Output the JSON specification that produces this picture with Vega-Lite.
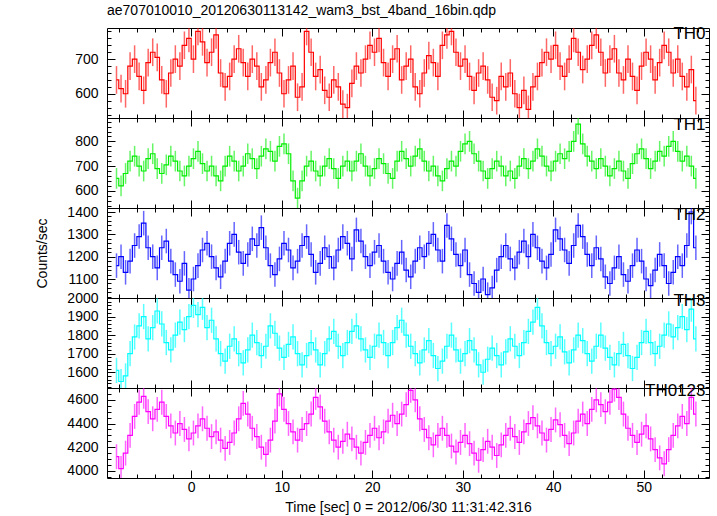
{
"$schema": "https://vega.github.io/schema/vega-lite/v6.json",
"background": "white",
"padding": {"left": 35, "top": 3, "right": 8, "bottom": 2},
"bounds": "flush",
"spacing": 0,
"title": {"text": "ae707010010_20120630113142_wam3_bst_4band_16bin.qdp", "anchor": "start", "frame": "group", "fontSize": 14, "fontWeight": "normal", "font": "Liberation Sans", "color": "black", "offset": 6},
"config": {
  "font": "Liberation Sans",
  "view": {"stroke": "black", "strokeWidth": 1},
  "axis": {"grid": false, "domain": false, "tickColor": "black", "tickWidth": 1, "labelFont": "Liberation Sans", "labelFontSize": 14, "labelColor": "black", "titleFont": "Liberation Sans", "titleFontSize": 14, "titleFontWeight": "normal", "titleColor": "black", "labelOverlap": false}
},
"datasets": {
"err": [{"k":"a","err":40},{"k":"b","err":42},{"k":"c","err":55},{"k":"d","err":68},{"k":"e","err":105}],
"d": [
{"t":-8.25,"a":640,"b":650,"c":1160,"d":1610,"e":4120},
{"t":-7.75,"a":615,"b":620,"c":1200,"d":1550,"e":4020},
{"t":-7.25,"a":600,"b":670,"c":1130,"d":1580,"e":4150},
{"t":-6.75,"a":680,"b":720,"c":1180,"d":1700,"e":4300},
{"t":-6.25,"a":700,"b":740,"c":1250,"d":1790,"e":4460},
{"t":-5.75,"a":650,"b":700,"c":1290,"d":1850,"e":4580},
{"t":-5.25,"a":610,"b":680,"c":1350,"d":1900,"e":4630},
{"t":-4.75,"a":690,"b":730,"c":1240,"d":1780,"e":4500},
{"t":-4.25,"a":720,"b":750,"c":1200,"d":1840,"e":4440},
{"t":-3.75,"a":705,"b":690,"c":1150,"d":1930,"e":4520},
{"t":-3.25,"a":640,"b":670,"c":1240,"d":1860,"e":4580},
{"t":-2.75,"a":600,"b":705,"c":1270,"d":1760,"e":4460},
{"t":-2.25,"a":660,"b":740,"c":1180,"d":1720,"e":4380},
{"t":-1.75,"a":700,"b":720,"c":1120,"d":1800,"e":4320},
{"t":-1.25,"a":680,"b":680,"c":1090,"d":1870,"e":4400},
{"t":-0.75,"a":740,"b":660,"c":1170,"d":1830,"e":4350},
{"t":-0.25,"a":760,"b":700,"c":1050,"d":1900,"e":4270},
{"t":0.25,"a":700,"b":730,"c":1100,"d":1960,"e":4320},
{"t":0.75,"a":780,"b":760,"c":1160,"d":1910,"e":4380},
{"t":1.25,"a":750,"b":710,"c":1230,"d":1950,"e":4440},
{"t":1.75,"a":690,"b":680,"c":1260,"d":1840,"e":4360},
{"t":2.25,"a":720,"b":700,"c":1200,"d":1880,"e":4290},
{"t":2.75,"a":770,"b":660,"c":1150,"d":1780,"e":4330},
{"t":3.25,"a":660,"b":640,"c":1110,"d":1700,"e":4260},
{"t":3.75,"a":620,"b":700,"c":1180,"d":1660,"e":4190},
{"t":4.25,"a":650,"b":740,"c":1260,"d":1740,"e":4240},
{"t":4.75,"a":700,"b":720,"c":1300,"d":1780,"e":4320},
{"t":5.25,"a":730,"b":680,"c":1220,"d":1700,"e":4440},
{"t":5.75,"a":690,"b":700,"c":1170,"d":1650,"e":4570},
{"t":6.25,"a":650,"b":750,"c":1210,"d":1720,"e":4480},
{"t":6.75,"a":700,"b":730,"c":1280,"d":1800,"e":4360},
{"t":7.25,"a":680,"b":690,"c":1250,"d":1760,"e":4290},
{"t":7.75,"a":620,"b":740,"c":1330,"d":1690,"e":4200},
{"t":8.25,"a":640,"b":770,"c":1240,"d":1740,"e":4140},
{"t":8.75,"a":690,"b":760,"c":1160,"d":1850,"e":4260},
{"t":9.25,"a":720,"b":720,"c":1120,"d":1810,"e":4420},
{"t":9.75,"a":660,"b":780,"c":1190,"d":1730,"e":4650},
{"t":10.25,"a":600,"b":790,"c":1260,"d":1680,"e":4520},
{"t":10.75,"a":640,"b":750,"c":1230,"d":1750,"e":4400},
{"t":11.25,"a":680,"b":640,"c":1150,"d":1790,"e":4330},
{"t":11.75,"a":590,"b":570,"c":1180,"d":1700,"e":4260},
{"t":12.25,"a":620,"b":640,"c":1250,"d":1640,"e":4350},
{"t":12.75,"a":780,"b":700,"c":1290,"d":1690,"e":4400},
{"t":13.25,"a":720,"b":720,"c":1210,"d":1760,"e":4480},
{"t":13.75,"a":650,"b":680,"c":1130,"d":1720,"e":4620},
{"t":14.25,"a":670,"b":660,"c":1170,"d":1640,"e":4540},
{"t":14.75,"a":610,"b":700,"c":1240,"d":1700,"e":4420},
{"t":15.25,"a":590,"b":730,"c":1200,"d":1780,"e":4330},
{"t":15.75,"a":640,"b":690,"c":1150,"d":1820,"e":4260},
{"t":16.25,"a":620,"b":650,"c":1230,"d":1740,"e":4200},
{"t":16.75,"a":570,"b":700,"c":1290,"d":1690,"e":4250},
{"t":17.25,"a":560,"b":720,"c":1260,"d":1760,"e":4310},
{"t":17.75,"a":630,"b":680,"c":1190,"d":1820,"e":4270},
{"t":18.25,"a":680,"b":720,"c":1320,"d":1850,"e":4200},
{"t":18.75,"a":660,"b":750,"c":1270,"d":1780,"e":4150},
{"t":19.25,"a":700,"b":700,"c":1200,"d":1720,"e":4240},
{"t":19.75,"a":740,"b":660,"c":1160,"d":1680,"e":4300},
{"t":20.25,"a":720,"b":690,"c":1220,"d":1740,"e":4360},
{"t":20.75,"a":760,"b":730,"c":1250,"d":1800,"e":4280},
{"t":21.25,"a":690,"b":710,"c":1180,"d":1760,"e":4330},
{"t":21.75,"a":650,"b":670,"c":1130,"d":1690,"e":4420},
{"t":22.25,"a":700,"b":650,"c":1100,"d":1760,"e":4470},
{"t":22.75,"a":730,"b":720,"c":1170,"d":1840,"e":4400},
{"t":23.25,"a":640,"b":760,"c":1220,"d":1880,"e":4480},
{"t":23.75,"a":680,"b":730,"c":1140,"d":1800,"e":4560},
{"t":24.25,"a":700,"b":700,"c":1110,"d":1740,"e":4680},
{"t":24.75,"a":620,"b":740,"c":1180,"d":1700,"e":4600},
{"t":25.25,"a":600,"b":770,"c":1240,"d":1650,"e":4440},
{"t":25.75,"a":660,"b":720,"c":1200,"d":1720,"e":4350},
{"t":26.25,"a":710,"b":680,"c":1260,"d":1770,"e":4280},
{"t":26.75,"a":690,"b":700,"c":1300,"d":1690,"e":4220},
{"t":27.25,"a":650,"b":660,"c":1230,"d":1620,"e":4300},
{"t":27.75,"a":740,"b":640,"c":1180,"d":1660,"e":4360},
{"t":28.25,"a":770,"b":690,"c":1340,"d":1740,"e":4300},
{"t":28.75,"a":780,"b":720,"c":1280,"d":1800,"e":4210},
{"t":29.25,"a":720,"b":700,"c":1210,"d":1720,"e":4160},
{"t":29.75,"a":680,"b":760,"c":1160,"d":1660,"e":4240},
{"t":30.25,"a":700,"b":790,"c":1230,"d":1700,"e":4300},
{"t":30.75,"a":650,"b":800,"c":1120,"d":1770,"e":4230},
{"t":31.25,"a":610,"b":750,"c":1080,"d":1720,"e":4150},
{"t":31.75,"a":660,"b":720,"c":1040,"d":1640,"e":4090},
{"t":32.25,"a":680,"b":680,"c":1100,"d":1600,"e":4180},
{"t":32.75,"a":640,"b":650,"c":1030,"d":1670,"e":4250},
{"t":33.25,"a":590,"b":690,"c":1060,"d":1730,"e":4200},
{"t":33.75,"a":580,"b":720,"c":1140,"d":1690,"e":4130},
{"t":34.25,"a":650,"b":700,"c":1200,"d":1640,"e":4220},
{"t":34.75,"a":620,"b":660,"c":1250,"d":1710,"e":4300},
{"t":35.25,"a":660,"b":680,"c":1190,"d":1780,"e":4360},
{"t":35.75,"a":600,"b":650,"c":1150,"d":1740,"e":4290},
{"t":36.25,"a":560,"b":700,"c":1220,"d":1690,"e":4240},
{"t":36.75,"a":610,"b":730,"c":1270,"d":1760,"e":4330},
{"t":37.25,"a":555,"b":690,"c":1200,"d":1820,"e":4400},
{"t":37.75,"a":620,"b":720,"c":1300,"d":1870,"e":4450},
{"t":38.25,"a":650,"b":770,"c":1240,"d":1950,"e":4380},
{"t":38.75,"a":690,"b":740,"c":1180,"d":1850,"e":4320},
{"t":39.25,"a":720,"b":700,"c":1150,"d":1760,"e":4260},
{"t":39.75,"a":700,"b":680,"c":1210,"d":1700,"e":4350},
{"t":40.25,"a":740,"b":720,"c":1320,"d":1740,"e":4430},
{"t":40.75,"a":680,"b":750,"c":1280,"d":1790,"e":4390},
{"t":41.25,"a":650,"b":730,"c":1230,"d":1710,"e":4300},
{"t":41.75,"a":700,"b":760,"c":1170,"d":1650,"e":4230},
{"t":42.25,"a":760,"b":800,"c":1250,"d":1720,"e":4320},
{"t":42.75,"a":720,"b":870,"c":1340,"d":1800,"e":4420},
{"t":43.25,"a":670,"b":790,"c":1290,"d":1770,"e":4480},
{"t":43.75,"a":700,"b":740,"c":1210,"d":1700,"e":4400},
{"t":44.25,"a":740,"b":720,"c":1160,"d":1660,"e":4520},
{"t":44.75,"a":770,"b":690,"c":1240,"d":1740,"e":4600},
{"t":45.25,"a":720,"b":730,"c":1190,"d":1800,"e":4560},
{"t":45.75,"a":660,"b":700,"c":1110,"d":1730,"e":4500},
{"t":46.25,"a":700,"b":660,"c":1080,"d":1680,"e":4580},
{"t":46.75,"a":730,"b":690,"c":1150,"d":1640,"e":4690},
{"t":47.25,"a":660,"b":720,"c":1200,"d":1700,"e":4620},
{"t":47.75,"a":640,"b":680,"c":1120,"d":1750,"e":4480},
{"t":48.25,"a":700,"b":650,"c":1090,"d":1690,"e":4360},
{"t":48.75,"a":650,"b":710,"c":1160,"d":1620,"e":4300},
{"t":49.25,"a":610,"b":750,"c":1230,"d":1680,"e":4240},
{"t":49.75,"a":680,"b":770,"c":1180,"d":1760,"e":4310},
{"t":50.25,"a":720,"b":730,"c":1100,"d":1820,"e":4380},
{"t":50.75,"a":700,"b":690,"c":1070,"d":1760,"e":4270},
{"t":51.25,"a":640,"b":720,"c":1140,"d":1700,"e":4180},
{"t":51.75,"a":690,"b":760,"c":1210,"d":1740,"e":4110},
{"t":52.25,"a":740,"b":740,"c":1160,"d":1800,"e":4060},
{"t":52.75,"a":720,"b":780,"c":1080,"d":1860,"e":4180},
{"t":53.25,"a":660,"b":800,"c":1130,"d":1790,"e":4300},
{"t":53.75,"a":700,"b":760,"c":1200,"d":1840,"e":4380},
{"t":54.25,"a":650,"b":720,"c":1160,"d":1900,"e":4460},
{"t":54.75,"a":620,"b":740,"c":1250,"d":1830,"e":4400},
{"t":55.25,"a":670,"b":700,"c":1400,"d":1940,"e":4620},
{"t":55.75,"a":580,"b":650,"c":1240,"d":1780,"e":4480}
]
},
"vconcat": [
{
 "width": 602, "height": 90,
 "title": {"text": "TH0", "anchor": "end", "offset": -19, "dx": -4, "fontSize": 17, "fontWeight": "normal", "color": "black"},
 "data": {"name": "d"},
 "transform": [{"fold": ["a"], "as": ["k", "v"]}, {"lookup": "k", "from": {"data": {"name": "err"}, "key": "k", "fields": ["err"]}}],
 "layer": [
  {"mark": {"type": "errorbar", "color": "#ff0000", "opacity": 0.6, "thickness": 1.5},
   "encoding": {
    "x": {"field": "t", "type": "quantitative", "scale": {"domain": [-9.3, 57.2], "nice": false, "zero": false}, "axis": {"values": [-8,-6,-4,-2,0,2,4,6,8,10,12,14,16,18,20,22,24,26,28,30,32,34,36,38,40,42,44,46,48,50,52,54,56], "labels": false, "title": null, "tickSize": {"condition": {"test": "datum.value % 10 === 0", "value": -8}, "value": -4}}},
    "y": {"field": "v", "type": "quantitative", "scale": {"domain": [530, 790], "nice": false, "zero": false, "clamp": true}, "axis": {"values": [540,560,580,600,620,640,660,680,700,720,740,760,780], "format": "d", "labelExpr": "datum.value % 100 === 0 ? datum.label : ''", "labelPadding": 17, "title": null, "tickSize": {"condition": {"test": "datum.value % 100 === 0", "value": -8}, "value": -4}}},
    "yError": {"field": "err"}}},
  {"mark": {"type": "line", "interpolate": "step", "color": "#ff0000", "strokeWidth": 1.2},
   "encoding": {
    "x": {"field": "t", "type": "quantitative", "axis": {"orient": "top", "values": [-8,-6,-4,-2,0,2,4,6,8,10,12,14,16,18,20,22,24,26,28,30,32,34,36,38,40,42,44,46,48,50,52,54,56], "labels": false, "title": null, "tickSize": {"condition": {"test": "datum.value % 10 === 0", "value": -8}, "value": -4}}},
    "y": {"field": "v", "type": "quantitative", "axis": {"orient": "right", "values": [540,560,580,600,620,640,660,680,700,720,740,760,780], "labels": false, "title": null, "tickSize": {"condition": {"test": "datum.value % 100 === 0", "value": -8}, "value": -4}}}}}
 ],
 "resolve": {"axis": {"x": "independent", "y": "independent"}}
},
{
 "width": 602, "height": 90,
 "title": {"text": "TH1", "anchor": "end", "offset": -19, "dx": -4, "fontSize": 17, "fontWeight": "normal", "color": "black"},
 "data": {"name": "d"},
 "transform": [{"fold": ["b"], "as": ["k", "v"]}, {"lookup": "k", "from": {"data": {"name": "err"}, "key": "k", "fields": ["err"]}}],
 "layer": [
  {"mark": {"type": "errorbar", "color": "#00ee00", "opacity": 0.6, "thickness": 1.5},
   "encoding": {
    "x": {"field": "t", "type": "quantitative", "scale": {"domain": [-9.3, 57.2], "nice": false, "zero": false}, "axis": {"values": [-8,-6,-4,-2,0,2,4,6,8,10,12,14,16,18,20,22,24,26,28,30,32,34,36,38,40,42,44,46,48,50,52,54,56], "labels": false, "title": null, "tickSize": {"condition": {"test": "datum.value % 10 === 0", "value": -8}, "value": -4}}},
    "y": {"field": "v", "type": "quantitative", "scale": {"domain": [530, 895], "nice": false, "zero": false, "clamp": true}, "axis": {"values": [540,560,580,600,620,640,660,680,700,720,740,760,780,800,820,840,860,880], "format": "d", "labelExpr": "datum.value % 100 === 0 ? datum.label : ''", "labelPadding": 17, "title": null, "tickSize": {"condition": {"test": "datum.value % 100 === 0", "value": -8}, "value": -4}}},
    "yError": {"field": "err"}}},
  {"mark": {"type": "line", "interpolate": "step", "color": "#00ee00", "strokeWidth": 1.2},
   "encoding": {
    "x": {"field": "t", "type": "quantitative", "axis": {"orient": "top", "values": [-8,-6,-4,-2,0,2,4,6,8,10,12,14,16,18,20,22,24,26,28,30,32,34,36,38,40,42,44,46,48,50,52,54,56], "labels": false, "title": null, "tickSize": {"condition": {"test": "datum.value % 10 === 0", "value": -8}, "value": -4}}},
    "y": {"field": "v", "type": "quantitative", "axis": {"orient": "right", "values": [540,560,580,600,620,640,660,680,700,720,740,760,780,800,820,840,860,880], "labels": false, "title": null, "tickSize": {"condition": {"test": "datum.value % 100 === 0", "value": -8}, "value": -4}}}}}
 ],
 "resolve": {"axis": {"x": "independent", "y": "independent"}}
},
{
 "width": 602, "height": 90,
 "title": {"text": "TH2", "anchor": "end", "offset": -19, "dx": -4, "fontSize": 17, "fontWeight": "normal", "color": "black"},
 "data": {"name": "d"},
 "transform": [{"fold": ["c"], "as": ["k", "v"]}, {"lookup": "k", "from": {"data": {"name": "err"}, "key": "k", "fields": ["err"]}}],
 "layer": [
  {"mark": {"type": "errorbar", "color": "#0000ff", "opacity": 0.6, "thickness": 1.5},
   "encoding": {
    "x": {"field": "t", "type": "quantitative", "scale": {"domain": [-9.3, 57.2], "nice": false, "zero": false}, "axis": {"values": [-8,-6,-4,-2,0,2,4,6,8,10,12,14,16,18,20,22,24,26,28,30,32,34,36,38,40,42,44,46,48,50,52,54,56], "labels": false, "title": null, "tickSize": {"condition": {"test": "datum.value % 10 === 0", "value": -8}, "value": -4}}},
    "y": {"field": "v", "type": "quantitative", "scale": {"domain": [1015, 1418], "nice": false, "zero": false, "clamp": true}, "axis": {"values": [1020,1040,1060,1080,1100,1120,1140,1160,1180,1200,1220,1240,1260,1280,1300,1320,1340,1360,1380,1400], "format": "d", "labelExpr": "datum.value % 100 === 0 ? datum.label : ''", "labelPadding": 17, "title": "Counts/sec", "titlePadding": 17, "tickSize": {"condition": {"test": "datum.value % 100 === 0", "value": -8}, "value": -4}}},
    "yError": {"field": "err"}}},
  {"mark": {"type": "line", "interpolate": "step", "color": "#0000ff", "strokeWidth": 1.2},
   "encoding": {
    "x": {"field": "t", "type": "quantitative", "axis": {"orient": "top", "values": [-8,-6,-4,-2,0,2,4,6,8,10,12,14,16,18,20,22,24,26,28,30,32,34,36,38,40,42,44,46,48,50,52,54,56], "labels": false, "title": null, "tickSize": {"condition": {"test": "datum.value % 10 === 0", "value": -8}, "value": -4}}},
    "y": {"field": "v", "type": "quantitative", "axis": {"orient": "right", "values": [1020,1040,1060,1080,1100,1120,1140,1160,1180,1200,1220,1240,1260,1280,1300,1320,1340,1360,1380,1400], "labels": false, "title": null, "tickSize": {"condition": {"test": "datum.value % 100 === 0", "value": -8}, "value": -4}}}}}
 ],
 "resolve": {"axis": {"x": "independent", "y": "independent"}}
},
{
 "width": 602, "height": 90,
 "title": {"text": "TH3", "anchor": "end", "offset": -19, "dx": -4, "fontSize": 17, "fontWeight": "normal", "color": "black"},
 "data": {"name": "d"},
 "transform": [{"fold": ["d"], "as": ["k", "v"]}, {"lookup": "k", "from": {"data": {"name": "err"}, "key": "k", "fields": ["err"]}}],
 "layer": [
  {"mark": {"type": "errorbar", "color": "#00ffff", "opacity": 0.65, "thickness": 1.5},
   "encoding": {
    "x": {"field": "t", "type": "quantitative", "scale": {"domain": [-9.3, 57.2], "nice": false, "zero": false}, "axis": {"values": [-8,-6,-4,-2,0,2,4,6,8,10,12,14,16,18,20,22,24,26,28,30,32,34,36,38,40,42,44,46,48,50,52,54,56], "labels": false, "title": null, "tickSize": {"condition": {"test": "datum.value % 10 === 0", "value": -8}, "value": -4}}},
    "y": {"field": "v", "type": "quantitative", "scale": {"domain": [1515, 2000], "nice": false, "zero": false, "clamp": true}, "axis": {"values": [1520,1540,1560,1580,1600,1620,1640,1660,1680,1700,1720,1740,1760,1780,1800,1820,1840,1860,1880,1900,1920,1940,1960,1980,2000], "format": "d", "labelExpr": "datum.value % 100 === 0 ? datum.label : ''", "labelPadding": 17, "title": null, "tickSize": {"condition": {"test": "datum.value % 100 === 0", "value": -8}, "value": -4}}},
    "yError": {"field": "err"}}},
  {"mark": {"type": "line", "interpolate": "step", "color": "#00ffff", "strokeWidth": 1.2},
   "encoding": {
    "x": {"field": "t", "type": "quantitative", "axis": {"orient": "top", "values": [-8,-6,-4,-2,0,2,4,6,8,10,12,14,16,18,20,22,24,26,28,30,32,34,36,38,40,42,44,46,48,50,52,54,56], "labels": false, "title": null, "tickSize": {"condition": {"test": "datum.value % 10 === 0", "value": -8}, "value": -4}}},
    "y": {"field": "v", "type": "quantitative", "axis": {"orient": "right", "values": [1520,1540,1560,1580,1600,1620,1640,1660,1680,1700,1720,1740,1760,1780,1800,1820,1840,1860,1880,1900,1920,1940,1960,1980,2000], "labels": false, "title": null, "tickSize": {"condition": {"test": "datum.value % 100 === 0", "value": -8}, "value": -4}}}}}
 ],
 "resolve": {"axis": {"x": "independent", "y": "independent"}}
},
{
 "width": 602, "height": 90,
 "title": {"text": "TH0123", "anchor": "end", "offset": -19, "dx": -4, "fontSize": 17, "fontWeight": "normal", "color": "black"},
 "data": {"name": "d"},
 "transform": [{"fold": ["e"], "as": ["k", "v"]}, {"lookup": "k", "from": {"data": {"name": "err"}, "key": "k", "fields": ["err"]}}],
 "layer": [
  {"mark": {"type": "errorbar", "color": "#ff00ff", "opacity": 0.6, "thickness": 1.5},
   "encoding": {
    "x": {"field": "t", "type": "quantitative", "scale": {"domain": [-9.3, 57.2], "nice": false, "zero": false}, "axis": {"values": [-8,-6,-4,-2,0,2,4,6,8,10,12,14,16,18,20,22,24,26,28,30,32,34,36,38,40,42,44,46,48,50,52,54,56], "labelExpr": "datum.value % 10 === 0 ? datum.label : ''", "labelPadding": 10, "title": "Time [sec] 0 = 2012/06/30 11:31:42.316", "titlePadding": 2, "tickSize": {"condition": {"test": "datum.value % 10 === 0", "value": -8}, "value": -4}}},
    "y": {"field": "v", "type": "quantitative", "scale": {"domain": [3940, 4700], "nice": false, "zero": false, "clamp": true}, "axis": {"values": [3950,4000,4050,4100,4150,4200,4250,4300,4350,4400,4450,4500,4550,4600,4650,4700], "format": "d", "labelExpr": "datum.value % 200 === 0 ? datum.label : ''", "labelPadding": 17, "title": null, "tickSize": {"condition": {"test": "datum.value % 200 === 0", "value": -8}, "value": -4}}},
    "yError": {"field": "err"}}},
  {"mark": {"type": "line", "interpolate": "step", "color": "#ff00ff", "strokeWidth": 1.2},
   "encoding": {
    "x": {"field": "t", "type": "quantitative", "axis": {"orient": "top", "values": [-8,-6,-4,-2,0,2,4,6,8,10,12,14,16,18,20,22,24,26,28,30,32,34,36,38,40,42,44,46,48,50,52,54,56], "labels": false, "title": null, "tickSize": {"condition": {"test": "datum.value % 10 === 0", "value": -8}, "value": -4}}},
    "y": {"field": "v", "type": "quantitative", "axis": {"orient": "right", "values": [3950,4000,4050,4100,4150,4200,4250,4300,4350,4400,4450,4500,4550,4600,4650,4700], "labels": false, "title": null, "tickSize": {"condition": {"test": "datum.value % 200 === 0", "value": -8}, "value": -4}}}}}
 ],
 "resolve": {"axis": {"x": "independent", "y": "independent"}}
}
]
}
